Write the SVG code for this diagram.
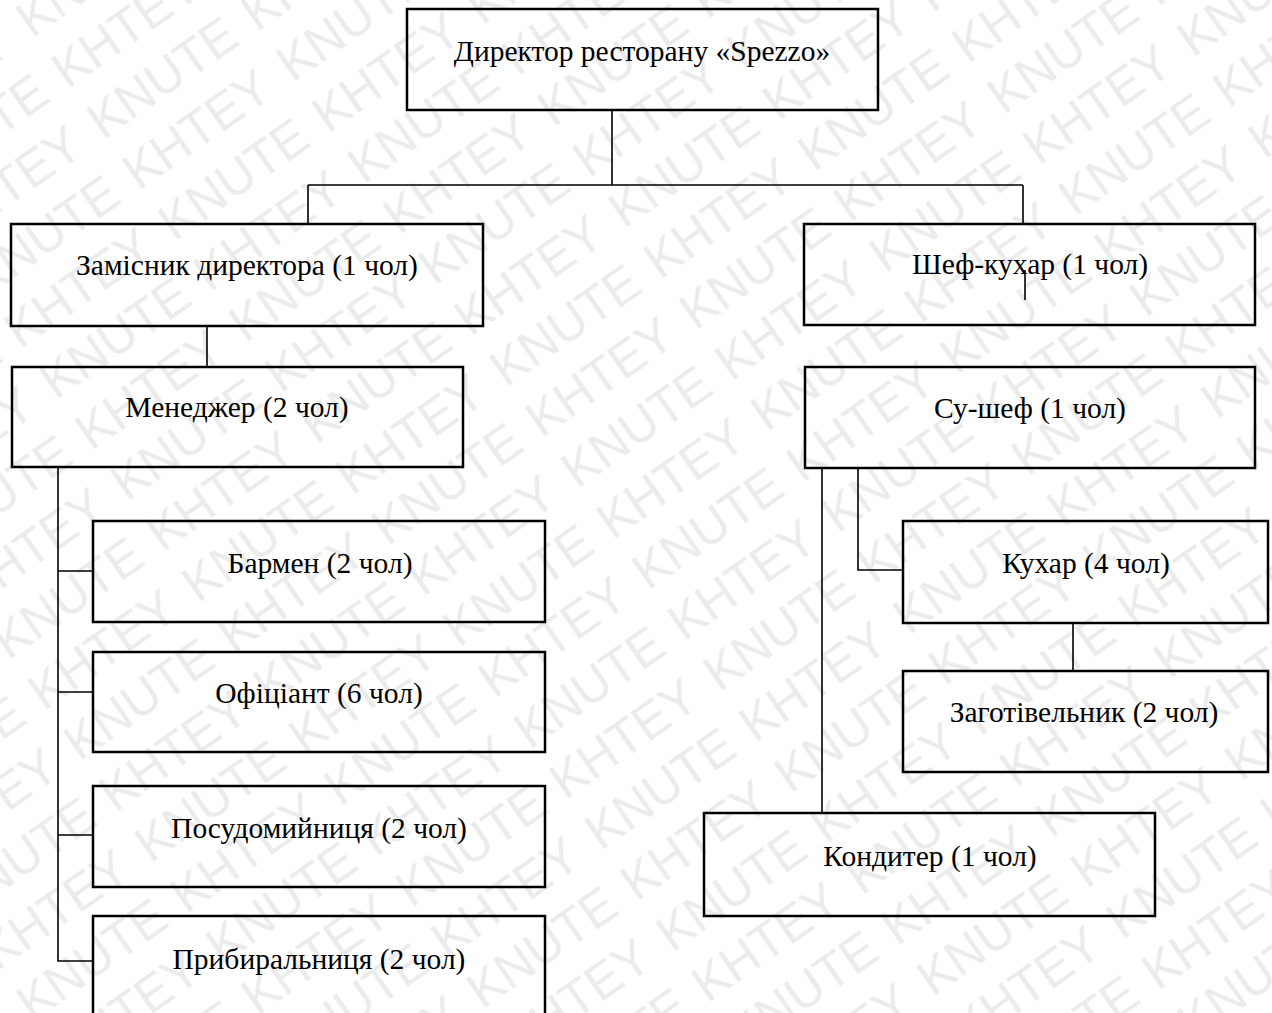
<svg xmlns="http://www.w3.org/2000/svg" width="1272" height="1013" viewBox="0 0 1272 1013">
<style>
.box{fill:none;stroke:#000;stroke-width:2.5}
.lbl{font-family:"Liberation Serif","Times New Roman",serif;font-size:29.5px;fill:#000;text-anchor:middle}
.con{fill:none;stroke:#000;stroke-width:1.6}
.wm{font-family:"Liberation Sans",Arial,sans-serif;font-size:50px;fill:#ebebeb}
</style>
<defs>
<pattern id="wmp" patternUnits="userSpaceOnUse" width="376" height="124" patternTransform="rotate(-35)">
<text class="wm" x="4" y="50">KNUTE</text>
<text class="wm" x="192" y="50">KHTEY</text>
<text class="wm" x="4" y="112">KHTEY</text>
<text class="wm" x="192" y="112">KNUTE</text>
</pattern>
</defs>
<rect x="0" y="0" width="1272" height="1013" fill="#fff"/>
<rect x="0" y="0" width="1272" height="1013" fill="url(#wmp)"/>
<g id="connectors">
<path class="con" d="M612 110V185M308 185H1023M308 185V224M1023 185V224"/>
<path class="con" d="M1025 270V300"/>
<path class="con" d="M207 326V367"/>
<path class="con" d="M58 468V961H93M58 571H93M58 692H93M58 835H93"/>
<path class="con" d="M822 468V813M858 468V570H903"/>
<path class="con" d="M1073 623V671"/>
</g>
<g id="director"><rect class="box" x="407" y="9" width="471" height="101"/><text class="lbl" x="642" y="61">Директор ресторану «Spezzo»</text></g>
<g id="deputy"><rect class="box" x="11" y="224" width="472" height="102"/><text class="lbl" x="247" y="275">Замісник директора (1 чол)</text></g>
<g id="chef"><rect class="box" x="804" y="224" width="451" height="101"/><text class="lbl" x="1030" y="274">Шеф-кухар (1 чол)</text></g>
<g id="manager"><rect class="box" x="12" y="367" width="451" height="100"/><text class="lbl" x="237" y="417">Менеджер (2 чол)</text></g>
<g id="souschef"><rect class="box" x="805" y="367" width="450" height="101"/><text class="lbl" x="1030" y="418">Су-шеф (1 чол)</text></g>
<g id="bartender"><rect class="box" x="93" y="521" width="452" height="101"/><text class="lbl" x="320" y="573">Бармен (2 чол)</text></g>
<g id="waiter"><rect class="box" x="93" y="652" width="452" height="100"/><text class="lbl" x="319" y="703">Офіціант (6 чол)</text></g>
<g id="dishwasher"><rect class="box" x="93" y="786" width="452" height="101"/><text class="lbl" x="319" y="838">Посудомийниця (2 чол)</text></g>
<g id="cleaner"><rect class="box" x="93" y="916" width="452" height="110"/><text class="lbl" x="319" y="969">Прибиральниця (2 чол)</text></g>
<g id="cook"><rect class="box" x="903" y="521" width="365" height="102"/><text class="lbl" x="1086" y="573">Кухар (4 чол)</text></g>
<g id="prep"><rect class="box" x="903" y="671" width="365" height="101"/><text class="lbl" x="1084" y="722">Заготівельник (2 чол)</text></g>
<g id="pastry"><rect class="box" x="704" y="813" width="451" height="103"/><text class="lbl" x="930" y="866">Кондитер (1 чол)</text></g>
</svg>
